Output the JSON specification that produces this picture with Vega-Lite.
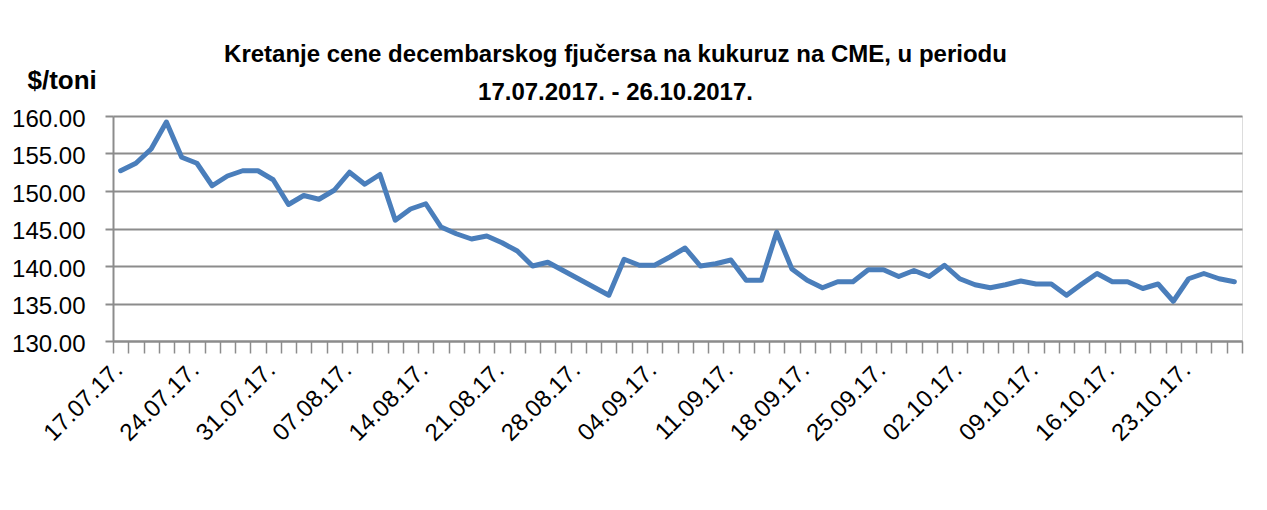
{
  "$schema": "https://vega.github.io/schema/vega-lite/v6.json",
  "autosize": {"type": "none"},
  "padding": {"left": 113, "top": 116, "right": 25, "bottom": 169},
  "width": 1129,
  "height": 225,
  "background": "white",
  "title": {
    "text": ["Kretanje cene decembarskog fjučersa na kukuruz na CME, u periodu", "17.07.2017. - 26.10.2017."],
    "anchor": "middle",
    "dx": -62,
    "dy": 52,
    "font": "Liberation Sans, Arial, sans-serif",
    "fontSize": 24,
    "fontWeight": "bold",
    "color": "black",
    "lineHeight": 38,
    "offset": 14
  },
  "data": {
    "values": [
      {"d": "17.07.17.", "v": 152.7}, {"d": "18.07.17.", "v": 153.7}, {"d": "19.07.17.", "v": 155.6}, {"d": "20.07.17.", "v": 159.2}, {"d": "21.07.17.", "v": 154.5},
      {"d": "24.07.17.", "v": 153.7}, {"d": "25.07.17.", "v": 150.7}, {"d": "26.07.17.", "v": 152.0}, {"d": "27.07.17.", "v": 152.7}, {"d": "28.07.17.", "v": 152.7},
      {"d": "31.07.17.", "v": 151.5}, {"d": "01.08.17.", "v": 148.2}, {"d": "02.08.17.", "v": 149.4}, {"d": "03.08.17.", "v": 148.9}, {"d": "04.08.17.", "v": 150.1},
      {"d": "07.08.17.", "v": 152.5}, {"d": "08.08.17.", "v": 150.9}, {"d": "09.08.17.", "v": 152.2}, {"d": "10.08.17.", "v": 146.1}, {"d": "11.08.17.", "v": 147.6},
      {"d": "14.08.17.", "v": 148.3}, {"d": "15.08.17.", "v": 145.2}, {"d": "16.08.17.", "v": 144.3}, {"d": "17.08.17.", "v": 143.6}, {"d": "18.08.17.", "v": 144.0},
      {"d": "21.08.17.", "v": 143.1}, {"d": "22.08.17.", "v": 142.0}, {"d": "23.08.17.", "v": 140.0}, {"d": "24.08.17.", "v": 140.5}, {"d": "25.08.17.", "v": 139.4},
      {"d": "28.08.17.", "v": 138.3}, {"d": "29.08.17.", "v": 137.2}, {"d": "30.08.17.", "v": 136.1}, {"d": "31.08.17.", "v": 140.9}, {"d": "01.09.17.", "v": 140.1},
      {"d": "04.09.17.", "v": 140.1}, {"d": "05.09.17.", "v": 141.2}, {"d": "06.09.17.", "v": 142.4}, {"d": "07.09.17.", "v": 140.0}, {"d": "08.09.17.", "v": 140.3},
      {"d": "11.09.17.", "v": 140.8}, {"d": "12.09.17.", "v": 138.1}, {"d": "13.09.17.", "v": 138.1}, {"d": "14.09.17.", "v": 144.5}, {"d": "15.09.17.", "v": 139.6},
      {"d": "18.09.17.", "v": 138.1}, {"d": "19.09.17.", "v": 137.1}, {"d": "20.09.17.", "v": 137.9}, {"d": "21.09.17.", "v": 137.9}, {"d": "22.09.17.", "v": 139.5},
      {"d": "25.09.17.", "v": 139.5}, {"d": "26.09.17.", "v": 138.6}, {"d": "27.09.17.", "v": 139.4}, {"d": "28.09.17.", "v": 138.6}, {"d": "29.09.17.", "v": 140.1},
      {"d": "02.10.17.", "v": 138.3}, {"d": "03.10.17.", "v": 137.5}, {"d": "04.10.17.", "v": 137.1}, {"d": "05.10.17.", "v": 137.5}, {"d": "06.10.17.", "v": 138.0},
      {"d": "09.10.17.", "v": 137.6}, {"d": "10.10.17.", "v": 137.6}, {"d": "11.10.17.", "v": 136.1}, {"d": "12.10.17.", "v": 137.6}, {"d": "13.10.17.", "v": 139.0},
      {"d": "16.10.17.", "v": 137.9}, {"d": "17.10.17.", "v": 137.9}, {"d": "18.10.17.", "v": 137.0}, {"d": "19.10.17.", "v": 137.6}, {"d": "20.10.17.", "v": 135.3},
      {"d": "23.10.17.", "v": 138.3}, {"d": "24.10.17.", "v": 139.0}, {"d": "25.10.17.", "v": 138.3}, {"d": "26.10.17.", "v": 137.9}
    ]
  },
  "mark": {"type": "line", "color": "#4A7EBB", "strokeWidth": 5, "strokeJoin": "round", "strokeCap": "round"},
  "encoding": {
    "x": {
      "field": "d",
      "type": "ordinal",
      "sort": null,
      "bandPosition": 0.5,
      "scale": {"type": "band", "paddingInner": 0, "paddingOuter": 0},
      "axis": {
        "title": null,
        "tickBand": "extent",
        "tickSize": 12,
        "tickColor": "#8c8c8c",
        "tickWidth": 1.5,
        "domainColor": "#8c8c8c",
        "domainWidth": 2,
        "grid": false,
        "labelAngle": -45,
        "labelAlign": "right",
        "labelBaseline": "middle",
        "labelPadding": 13,
        "labelOffset": -2,
        "labelFont": "Liberation Sans, Arial, sans-serif",
        "labelFontSize": 24,
        "labelColor": "black",
        "labelOverlap": false,
        "labelExpr": "indexof(['17.07.17.','24.07.17.','31.07.17.','07.08.17.','14.08.17.','21.08.17.','28.08.17.','04.09.17.','11.09.17.','18.09.17.','25.09.17.','02.10.17.','09.10.17.','16.10.17.','23.10.17.'], datum.value) >= 0 ? datum.value : ''"
      }
    },
    "y": {
      "field": "v",
      "type": "quantitative",
      "scale": {"domain": [130, 160], "nice": false, "zero": false},
      "axis": {
        "title": "$/toni",
        "titleAngle": 0,
        "titleAlign": "left",
        "titleBaseline": "alphabetic",
        "titleX": -86,
        "titleY": -28,
        "titleFont": "Liberation Sans, Arial, sans-serif",
        "titleFontSize": 26,
        "titleFontWeight": "bold",
        "titleColor": "black",
        "values": [130, 135, 140, 145, 150, 155, 160],
        "format": ".2f",
        "grid": true,
        "gridColor": "#8c8c8c",
        "gridWidth": 2,
        "domainColor": "#8c8c8c",
        "domainWidth": 2,
        "tickColor": "#8c8c8c",
        "tickWidth": 2,
        "tickSize": 8,
        "labelPadding": 20,
        "labelOffset": 3,
        "labelFont": "Liberation Sans, Arial, sans-serif",
        "labelFontSize": 24,
        "labelColor": "black"
      }
    }
  }
}
